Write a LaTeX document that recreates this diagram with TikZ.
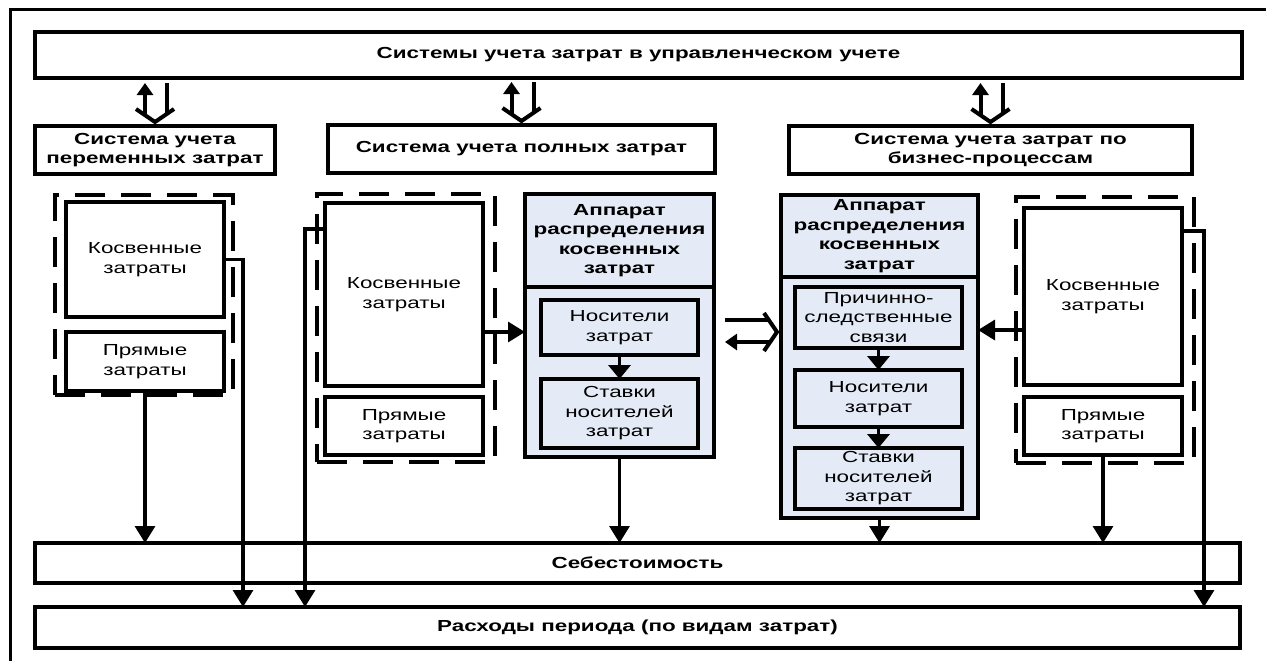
\documentclass[tikz,border=0pt]{standalone}
\usepackage{fontspec}
\newfontfamily\diafont[FakeStretch=1.4]{Liberation Sans}
\usetikzlibrary{arrows.meta}
\definecolor{apfill}{RGB}{228,235,246}
\newcommand\normtxt{\diafont\fontsize{16}{19.5}\selectfont}
\newcommand\boldtxt{\diafont\bfseries\fontsize{16}{19.5}\selectfont}
\tikzset{
  sz/.style 2 args={minimum width=#1pt,minimum height=#2pt},
  frameline/.style={line width=3pt},
  box/.style={draw,line width=3.5pt,inner sep=0pt,outer sep=0pt,align=center,font=\normtxt},
  hbox/.style={box,font=\boldtxt},
  abox/.style={box,fill=apfill},
  dbox/.style={draw,line width=4.5pt,dash pattern=on 30pt off 16pt,inner sep=0pt,outer sep=0pt},
  conn/.style={line width=3.2pt,-{Triangle[width=20pt,length=17pt]}},
  inarr/.style={line width=3.5pt,-{Triangle[width=22pt,length=14pt]}},
  ut/.style={line width=4pt,line join=miter},
  pics/uturn/.style={code={
    \draw[ut] (-19,-13) -- (0,0) -- (19,-13);
    \draw[ut] (12,-8) -- (12,-#1);
    \draw[ut,-{Triangle[width=16pt,length=12pt]}] (-10,-6.5) -- (-10,-#1);
  }},
}
\begin{document}
\begin{tikzpicture}[x=1pt,y=-1pt]
\useasboundingbox (0,0) rectangle (1266,661);
\draw[frameline] (1266,10) -- (10,10) -- (10,661);

% headline and the three costing systems
\node[hbox,sz={1207}{46}] (top) at (638.5,55) {Системы учета затрат в управленческом учете};
\node[hbox,sz={240}{48}] (sysV) at (155,150) {Система учета\\переменных затрат};
\node[hbox,sz={387}{48}] (sysF) at (521.5,149) {Система учета полных затрат};
\node[hbox,sz={403}{48}] (sysA) at (990.5,150) {Система учета затрат по\\бизнес-процессам};

\pic at ([yshift=4pt]sysV.north) {uturn=39};
\pic at ([yshift=4pt]sysF.north) {uturn=39};
\pic at ([yshift=4pt]sysA.north) {uturn=39};

% variable costing
\node[dbox,sz={178}{200}] (grpV) at (144,295) {};
\node[box,sz={158}{115}] (indV) at (145,259.5) {Косвенные\\затраты};
\node[box,sz={158}{59}] (dirV) at (145,361.5) {Прямые\\затраты};

% full costing
\node[dbox,sz={178}{268}] (grpF) at (406,328) {};
\node[box,sz={158}{183}] (indF) at (404,294.5) {Косвенные\\затраты};
\node[box,sz={158}{58}] (dirF) at (404,426) {Прямые\\затраты};
\node[abox,sz={189}{263}] (allocF) at (619.5,325.5) {};
\coordinate (sepF) at (0,287);
\draw[line width=3.5pt] (allocF.west |- sepF) -- (allocF.east |- sepF);
\node[font=\boldtxt,align=center,inner sep=0pt] (headF) at (619.5,240.5) {Аппарат\\распределения\\косвенных\\затрат};
\node[abox,sz={157}{55}] (drvF) at (619.5,327.5) {Носители\\затрат};
\node[abox,sz={157}{69}] (rateF) at (619.5,413.5) {Ставки\\носителей\\затрат};

% activity-based costing
\node[abox,sz={197}{323}] (allocA) at (879.5,356.5) {};
\coordinate (sepA) at (0,277);
\draw[line width=3.5pt] (allocA.west |- sepA) -- (allocA.east |- sepA);
\node[font=\boldtxt,align=center,inner sep=0pt] (headA) at (879.5,236) {Аппарат\\распределения\\косвенных\\затрат};
\node[abox,sz={167}{61}] (causeA) at (878.5,317.5) {Причинно-\\следственные\\связи};
\node[abox,sz={167}{57}] (drvA) at (878.5,398.5) {Носители\\затрат};
\node[abox,sz={167}{61}] (rateA) at (878.5,478.5) {Ставки\\носителей\\затрат};
\node[dbox,sz={178}{266}] (grpA) at (1105,330) {};
\node[box,sz={158}{177}] (indA) at (1103,296.5) {Косвенные\\затраты};
\node[box,sz={158}{58}] (dirA) at (1103,426) {Прямые\\затраты};

% results
\node[hbox,sz={1205}{40}] (cost) at (637.5,563) {Себестоимость};
\node[hbox,sz={1205}{41}] (period) at (637.5,627.5) {Расходы периода (по видам затрат)};

% flows
\draw[conn] (dirV.south) -- (dirV.south |- cost.north);
\coordinate (jV) at (243,259.5);
\draw[conn] (indV.east) -- (jV) -- (jV |- period.north);

\coordinate (jF) at (305,229);
\draw[conn] (indF.west |- jF) -- (jF) -- (jF |- period.north);
\coordinate (aF) at (0,332);
\draw[conn] (indF.east |- aF) -- (allocF.west |- aF);
\draw[inarr] (drvF.south) -- (rateF.north);
\draw[conn] (allocF.south) -- (allocF.south |- cost.north);

\path (allocA.west |- aF) ++(-4,0) coordinate (uF);
\pic[rotate=90] at (uF) {uturn=52};

\draw[inarr] (causeA.south) -- (drvA.north);
\draw[inarr] (drvA.south) -- (rateA.north);
\draw[conn] (allocA.south) -- (allocA.south |- cost.north);
\coordinate (aA) at (0,330);
\draw[conn] (indA.west |- aA) -- (allocA.east |- aA);
\draw[conn] (dirA.south) -- (dirA.south |- cost.north);
\coordinate (jA) at (1204,231);
\draw[conn] (indA.east |- jA) -- (jA) -- (jA |- period.north);
\end{tikzpicture}
\end{document}
